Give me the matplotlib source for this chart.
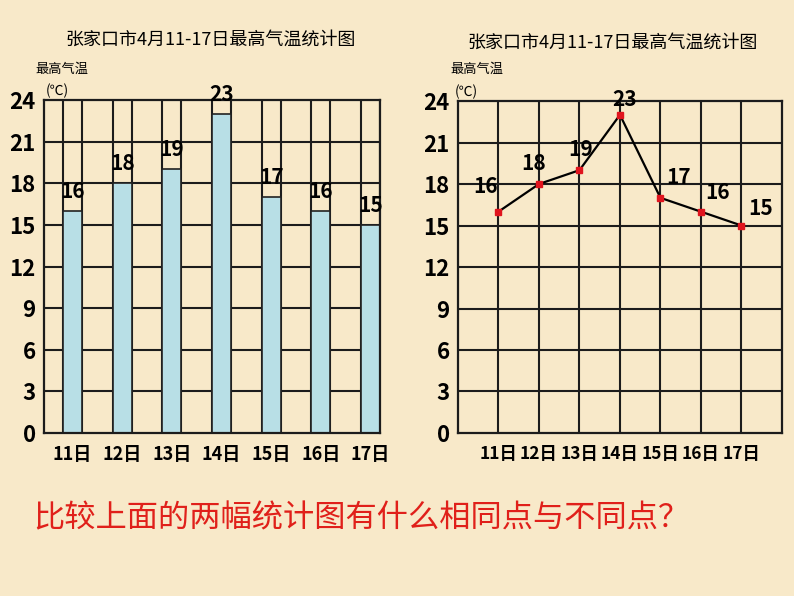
import matplotlib
matplotlib.use("Agg")
import matplotlib.pyplot as plt

# data
days = ["11日", "12日", "13日", "14日", "15日", "16日", "17日"]
temps = [16, 18, 19, 23, 17, 16, 15]
yticks = [0, 3, 6, 9, 12, 15, 18, 21, 24]
title = "张家口市4月11-17日最高气温统计图"
ylabel = "最高气温"
unit = "(℃)"
question = "比较上面的两幅统计图有什么相同点与不同点？"

# label offsets (points) for the line chart values
line_label_dx = [-9, -4, 1, 3, 13, 12, 14]
line_label_dy = [18, 15, 15, 11, 15, 14, 12]

fonts = ["Liberation Sans Narrow", "Noto Sans CJK SC", "DejaVu Sans"]
plt.rcParams["font.family"] = fonts

bg = "#f8e9c9"
gridc = "#1c1c1c"
fig = plt.figure(figsize=(7.94, 5.96), dpi=100, facecolor=bg)

###left: bar chart###
ax1 = fig.add_axes([0.0554, 0.2735, 0.4232, 0.5587])
step = 1.0
w = 0.38
xs = [i * step for i in range(len(days))]
ax1.set_xlim(-0.575, xs[-1] + w / 2)
ax1.set_ylim(0, 24)
for y in yticks[1:-1]:
    ax1.axhline(y, color=gridc, lw=1.5, zorder=1)
for x in xs:
    ax1.axvline(x - w / 2, color=gridc, lw=1.5, zorder=1)
    ax1.axvline(x + w / 2, color=gridc, lw=1.5, zorder=1)
ax1.bar(xs, temps, width=w, color="#b8dfe6", edgecolor="#222222", linewidth=1.2, zorder=2)
for x, t in zip(xs, temps):
    ax1.annotate(str(t), (x, t), xytext=(0, 14), textcoords="offset points",
                 ha="center", va="center", fontsize=15, fontweight="bold")

###right: line chart###
ax2 = fig.add_axes([0.5768, 0.2735, 0.408, 0.5570])
px = list(range(1, len(days) + 1))
ax2.set_xlim(0, len(days) + 1)
ax2.set_ylim(0, 24)
for y in yticks[1:-1]:
    ax2.axhline(y, color=gridc, lw=1.5, zorder=1)
for x in px:
    ax2.axvline(x, color=gridc, lw=1.5, zorder=1)
ax2.plot(px, temps, color="black", lw=1.6, zorder=3)
ax2.plot(px, temps, ls="none", marker="s", ms=4, color="#e0141e", zorder=4)
for x, t, dx, dy in zip(px, temps, line_label_dx, line_label_dy):
    ax2.annotate(str(t), (x, t), xytext=(dx, dy), textcoords="offset points",
                 ha="center", va="center", fontsize=15, fontweight="bold")

for ax, ticks_x, xfs in [(ax1, xs, 13), (ax2, px, 12.5)]:
    ax.set_facecolor(bg)
    ax.set_yticks(yticks)
    ax.set_yticklabels([str(v) for v in yticks], fontsize=16, fontweight="bold")
    ax.set_xticks(ticks_x)
    ax.set_xticklabels(days, fontsize=xfs, fontweight="bold")
    ax.tick_params(axis="y", length=0, pad=6)
    ax.tick_params(axis="x", length=0, pad=9)
    for s in ax.spines.values():
        s.set_color(gridc)
        s.set_linewidth(1.6)

# titles and axis names
fig.text(0.265, 0.933, title, ha="center", va="center", fontsize=13)
fig.text(0.771, 0.929, title, ha="center", va="center", fontsize=13)
fig.text(0.045, 0.883, ylabel, ha="left", va="center", fontsize=9.5)
fig.text(0.058, 0.848, unit, ha="left", va="center", fontsize=10)
fig.text(0.567, 0.883, ylabel, ha="left", va="center", fontsize=9.5)
fig.text(0.573, 0.846, unit, ha="left", va="center", fontsize=10)

fig.text(0.042, 0.131, question, ha="left", va="center", fontsize=22.5, color="#e0201a")

fig.savefig("out.png", dpi=100, facecolor=bg)
